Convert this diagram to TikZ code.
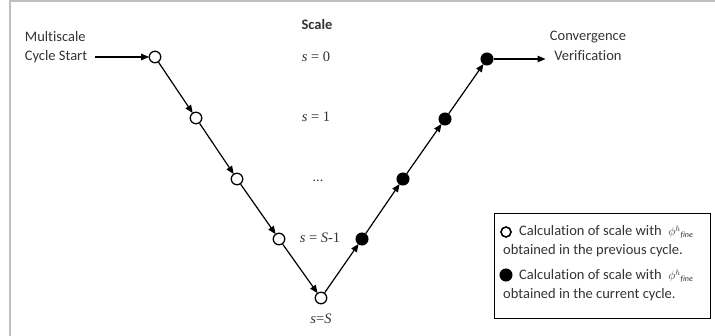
\documentclass[tikz,border=0pt]{standalone}
\usepackage{fontspec}
\setmainfont[Ligatures=NoCommon]{Carlito}
\newfontfamily\serifscale{Liberation Serif}
\usetikzlibrary{arrows.meta}
\tikzset{
  txt/.style={font=\fontsize{14.5}{19.5}\selectfont, inner sep=0pt, text=black!80},
  mth/.style={font=\serifscale\fontsize{14.5}{16}\selectfont, inner sep=0pt, text=black!80},
  opn/.style={circle, draw, line width=1.3pt, fill=white, minimum size=11.5pt, inner sep=0pt},
  fld/.style={circle, draw, fill=black, line width=1pt, minimum size=12pt, inner sep=0pt},
  conn/.style={line width=1.2pt, -{Triangle[length=8pt,width=6.5pt]}, shorten >=-0.5pt},
}
\begin{document}
\begin{tikzpicture}[x=1pt,y=-1pt]
\useasboundingbox (0,0) rectangle (715,336);
% frame
\draw[black!25, line width=1.2pt] (10,336) -- (10,1) -- (715,1);
% nodes
\node[opn] (o1) at (155,57) {};
\node[opn] (o2) at (196,118) {};
\node[opn] (o3) at (237,179) {};
\node[opn] (o4) at (279,239) {};
\node[opn] (o5) at (321,298) {};
\node[fld] (f1) at (362,239) {};
\node[fld] (f2) at (403,179) {};
\node[fld] (f3) at (445,119) {};
\node[fld] (f4) at (487,59) {};
% start / end
\node[txt, align=left] (start) at (56,47) {Multiscale\\Cycle Start};
\coordinate (sa) at (95,57);
\node[txt, align=center] (conv) at (588,46) {Convergence\\Verification};
\coordinate (ea) at (545,59);
\draw[conn] (sa) -- (o1);
\draw[conn] (o1) -- (o2);
\draw[conn] (o2) -- (o3);
\draw[conn] (o3) -- (o4);
\draw[conn] (o4) -- (o5);
\draw[conn] (o5) -- (f1);
\draw[conn] (f1) -- (f2);
\draw[conn] (f2) -- (f3);
\draw[conn] (f3) -- (f4);
\draw[conn] (f4) -- (ea);
% scale labels
\node[txt, font=\fontsize{14.5}{17}\selectfont\bfseries] (scale) at (317,24) {Scale};
\node[mth] (s0) at (316,57) {\textit{s} = 0};
\node[mth] (s1) at (316,117) {\textit{s} = 1};
\node[mth] (sdots) at (318,181) {...};
\node[mth] (sSm) at (320,238) {\textit{s} = \textit{S}-1};
\node[mth] (sS) at (321,319) {\textit{s}=\textit{S}};
% legend
\node[draw, line width=1.2pt, minimum width=216pt, minimum height=105pt, inner sep=0pt, anchor=north west] (legend) at (494,213) {};
\node[opn, minimum size=10pt, line width=1.6pt] (lo) at (506,232) {};
\node[txt, anchor=west] (l1) at (519,232) {Calculation of scale with \ \fontsize{12}{14}\selectfont$\phi^h{}_{\mathit{fine}}$};
\node[txt, anchor=west] (l2) at (503,251) {obtained in the previous cycle.};
\node[fld, minimum size=12pt] (lf) at (506,275) {};
\node[txt, anchor=west] (l3) at (519,276) {Calculation of scale with \ \fontsize{12}{14}\selectfont$\phi^h{}_{\mathit{fine}}$};
\node[txt, anchor=west] (l4) at (503,295) {obtained in the current cycle.};
\end{tikzpicture}
\end{document}
